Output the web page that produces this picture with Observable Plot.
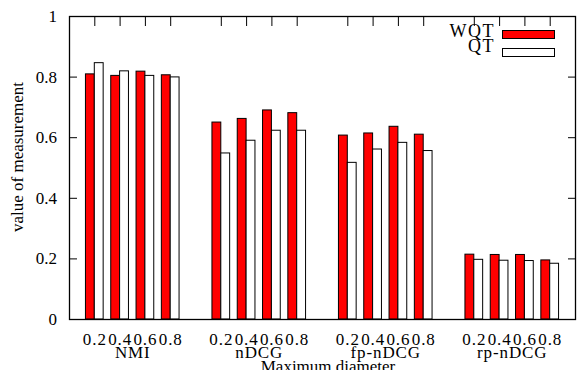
<!DOCTYPE html>
<html>
<head>
<meta charset="utf-8">
<script src="https://cdn.jsdelivr.net/npm/d3@7"></script>
<script src="https://cdn.jsdelivr.net/npm/@observablehq/plot@0.6"></script>
<style>
  html, body { margin: 0; padding: 0; background: #fff; }
  #wrap { position: relative; width: 579px; height: 370px; overflow: hidden; font-family: "Liberation Serif", serif; }
  .lg-text { position: absolute; font-size: 18px; line-height: 18px; text-align: right; width: 80px; letter-spacing: 1.5px; }
  .lg-box { position: absolute; box-sizing: border-box; border: 1px solid #000; }
</style>
</head>
<body>
<div id="wrap"></div>
<script>
const groups = ["NMI", "nDCG", "fp-nDCG", "rp-nDCG"];
const diameters = ["0.2", "0.4", "0.6", "0.8"];
const seriesNames = ["WQT", "QT"];
const seriesColors = ["#ff0000", "#ffffff"];
const wqt = [
  [0.809, 0.804, 0.818, 0.806],
  [0.650, 0.662, 0.690, 0.681],
  [0.607, 0.614, 0.636, 0.610],
  [0.214, 0.213, 0.213, 0.195]
];
const qt = [
  [0.846, 0.819, 0.804, 0.799],
  [0.548, 0.590, 0.623, 0.623],
  [0.517, 0.561, 0.583, 0.556],
  [0.197, 0.194, 0.193, 0.184]
];
const yTicks = [0, 0.2, 0.4, 0.6, 0.8, 1];

// table: slot index along x = group*5 + diameter + 1
const barW = 0.35;
const rows = [];
const slots = [];
const groupCenters = [];
groups.forEach((g, gi) => {
  groupCenters.push(gi * 5 + 2.5);
  diameters.forEach((d, di) => {
    const pos = gi * 5 + di + 1;
    slots.push(pos);
    rows.push({group: g, diameter: d, series: 0, x1: pos - barW, x2: pos, value: wqt[gi][di]});
    rows.push({group: g, diameter: d, series: 1, x1: pos, x2: pos + barW, value: qt[gi][di]});
  });
});

const chart = Plot.plot({
  width: 579,
  height: 370,
  marginLeft: 69,
  marginRight: 4,
  marginTop: 16,
  marginBottom: 51,
  style: {fontFamily: "Liberation Serif", fontSize: "17px", background: "#fff", color: "#000"},
  x: {type: "linear", domain: [0, groups.length * 5], label: null},
  y: {domain: [0, 1], label: null},
  marks: [
    Plot.rectY(rows, {
      x1: "x1", x2: "x2", y1: 0, y2: "value",
      fill: d => seriesColors[d.series],
      stroke: "#000", strokeWidth: 1
    }),
    Plot.frame({stroke: "#000", strokeWidth: 1.3}),
    Plot.axisY({anchor: "left", ticks: yTicks, tickSize: -8, tickPadding: 20.5, tickFormat: d => String(d), label: null}),
    Plot.axisY({anchor: "right", ticks: yTicks, tickSize: -8, tickFormat: () => "", label: null}),
    Plot.axisX(slots, {anchor: "top", tickSize: -9, tickFormat: () => "", label: null}),
    Plot.axisX(slots, {anchor: "bottom", tickSize: 0, tickPadding: 13, tickFormat: p => diameters[(p - 1) % 5], label: null}),
    Plot.axisX(groupCenters, {anchor: "bottom", tickSize: 0, tickPadding: 26, tickFormat: p => groups[Math.floor(p / 5)], label: null}),
    Plot.text(["Maximum diameter"], {frameAnchor: "bottom", lineAnchor: "top", dy: 40, dx: 5.5, fontSize: 17}),
    Plot.text(["value of measurement"], {frameAnchor: "left", textAnchor: "middle", rotate: -90, dx: -52, dy: -11, fontSize: 17})
  ]
});

const wrap = document.getElementById("wrap");
wrap.appendChild(chart);
d3.select(chart).selectAll('g[aria-label="x-axis tick label"] text').style("letter-spacing", "0.9px");

// legend (gnuplot-style, inside the top-right of the frame)
seriesNames.forEach((name, i) => {
  const t = document.createElement("div");
  t.className = "lg-text";
  t.textContent = name;
  t.style.left = (495 - 80) + "px";
  t.style.top = (21.6 + i * 15.6) + "px";
  wrap.appendChild(t);
  const b = document.createElement("div");
  b.className = "lg-box";
  b.style.left = "502px";
  b.style.top = (30 + i * 18) + "px";
  b.style.width = "53px";
  b.style.height = "9px";
  b.style.background = seriesColors[i];
  wrap.appendChild(b);
});
</script>
</body>
</html>
